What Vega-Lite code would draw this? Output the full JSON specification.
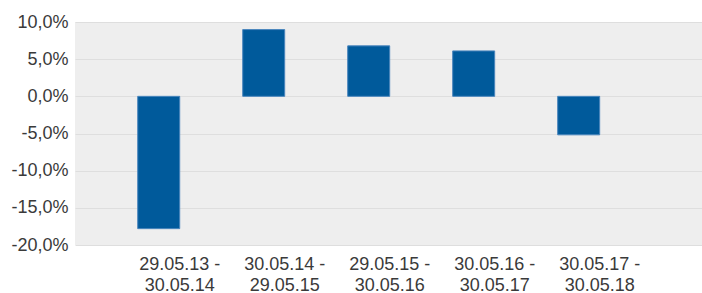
{
  "$schema": "https://vega.github.io/schema/vega-lite/v6.json",
  "width": 627,
  "height": 223,
  "autosize": {"type": "none"},
  "padding": {"left": 75, "top": 22, "right": 0, "bottom": 48},
  "background": "#ffffff",
  "config": {
    "locale": {"number": {"decimal": ",", "thousands": ".", "grouping": [3], "currency": ["", " €"], "minus": "-"}},
    "view": {"stroke": null, "fill": "#eeeeee"},
    "font": "Liberation Sans"
  },
  "data": {"values": [
    {"period": "29.05.13 - 30.05.14", "value": -0.178},
    {"period": "30.05.14 - 29.05.15", "value": 0.0898},
    {"period": "29.05.15 - 30.05.16", "value": 0.0679},
    {"period": "30.05.16 - 30.05.17", "value": 0.0611},
    {"period": "30.05.17 - 30.05.18", "value": -0.0518}
  ]},
  "mark": {"type": "bar", "color": "#005a9b", "stroke": "#4a86bd", "strokeWidth": 1},
  "encoding": {
    "x": {
      "field": "period", "type": "nominal", "sort": null,
      "scale": {"paddingInner": 0.6, "paddingOuter": 0.786, "align": 0.38},
      "axis": {
        "title": null, "domain": false, "ticks": false, "grid": false,
        "labelAngle": 0, "labelFontSize": 18, "labelColor": "#3a3a3a",
        "labelPadding": 10, "labelLineHeight": 21, "labelFont": "Liberation Sans",
        "labelOffset": 21,
        "labelExpr": "[substring(datum.label,0,10), substring(datum.label,11)]"
      }
    },
    "y": {
      "field": "value", "type": "quantitative",
      "scale": {"domain": [-0.2, 0.1], "nice": false, "zero": false},
      "axis": {
        "title": null, "domain": false, "ticks": false,
        "values": [-0.2, -0.15, -0.1, -0.05, 0, 0.05, 0.1],
        "format": ".1%", "labelFontSize": 18, "labelColor": "#3a3a3a",
        "labelPadding": 7, "labelFont": "Liberation Sans",
        "gridColor": "#dedede", "gridWidth": 1
      }
    }
  }
}
